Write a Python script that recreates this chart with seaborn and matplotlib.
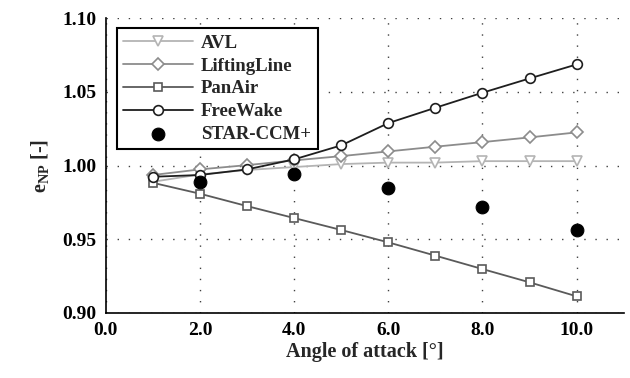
import matplotlib
matplotlib.use("Agg")
import matplotlib.pyplot as plt
import seaborn as sns
import pandas as pd
import numpy as np

angles = [1, 2, 3, 4, 5, 6, 7, 8, 9, 10]
avl = [0.989, 0.994, 0.997, 0.999, 1.001, 1.002, 1.002, 1.003, 1.003, 1.003]
lifting = [0.9936, 0.9974, 1.0003, 1.0035, 1.0064, 1.0096, 1.0128, 1.0159, 1.0191, 1.0225]
panair = [0.9883, 0.9809, 0.9725, 0.9644, 0.9563, 0.9479, 0.9389, 0.9298, 0.9208, 0.9113]
freewake = [0.9924, 0.9936, 0.9974, 1.0042, 1.0137, 1.0288, 1.0392, 1.0494, 1.0591, 1.0686]
star_angles = [2, 4, 6, 8, 10]
star = [0.9886, 0.9942, 0.9845, 0.9719, 0.9565]

sns.set_theme(style="white")
plt.rcParams['font.family'] = ['Liberation Serif', 'DejaVu Serif']
plt.rcParams['font.weight'] = 'bold'
plt.rcParams['mathtext.fontset'] = 'custom'
plt.rcParams['mathtext.bf'] = 'Liberation Serif:bold'
plt.rcParams['mathtext.rm'] = 'Liberation Serif'

fig = plt.figure(figsize=(6.3, 3.78), dpi=100)
ax = fig.add_axes([0.168, 0.172, 0.822, 0.780])

series = [
    ("AVL", avl, "#b4b4b4", "v", 7),
    ("LiftingLine", lifting, "#8c8c8c", "D", 6),
    ("PanAir", panair, "#5a5a5a", "s", 6),
    ("FreeWake", freewake, "#1e1e1e", "o", 7),
]
for name, vals, col, mk, ms in series:
    df = pd.DataFrame({"x": angles, "y": vals})
    sns.lineplot(data=df, x="x", y="y", ax=ax, color=col, lw=1.3,
                 marker=mk, markersize=ms, markerfacecolor="white",
                 markeredgecolor=col, markeredgewidth=1.2, label=name, zorder=3)

dfs = pd.DataFrame({"x": star_angles, "y": star})
sns.scatterplot(data=dfs, x="x", y="y", ax=ax, color="black", s=85,
                edgecolor="black", label="STAR-CCM+", zorder=4)

ax.set_xlim(0, 11)
ax.set_ylim(0.90, 1.10)
ax.set_xticks([0, 2, 4, 6, 8, 10])
ax.set_xticklabels(["0.0", "2.0", "4.0", "6.0", "8.0", "10.0"])
ax.set_yticks([0.90, 0.95, 1.00, 1.05, 1.10])
ax.set_yticklabels(["0.90", "0.95", "1.00", "1.05", "1.10"])
ax.grid(True, linestyle=(0, (1, 7)), color="black", lw=1.0, alpha=0.75)
for s in ["top", "right"]:
    ax.spines[s].set_visible(False)
for s in ["left", "bottom"]:
    ax.spines[s].set_color("black")
    ax.spines[s].set_linewidth(1.2)
ax.tick_params(axis="both", direction="inout", length=9, width=1.2,
               labelsize=14, colors="black", pad=2)
ax.set_xlabel("Angle of attack [°]", fontsize=14.5, fontweight="bold", labelpad=2)
ax.set_ylabel(r"e$_{\mathbf{NP}}$ [-]", fontsize=14.5, fontweight="bold", labelpad=8)

leg = ax.legend(loc="upper left", bbox_to_anchor=(0.021, 0.966), frameon=True,
                fancybox=False, edgecolor="black", fontsize=13.5, handlelength=3.7,
                borderpad=0.35, labelspacing=0.3, handletextpad=0.45, borderaxespad=0.0)
leg.get_frame().set_linewidth(1.5)
leg.get_frame().set_alpha(1)
for t in leg.get_texts():
    t.set_fontweight("bold")

fig.savefig("out.png", dpi=100)
